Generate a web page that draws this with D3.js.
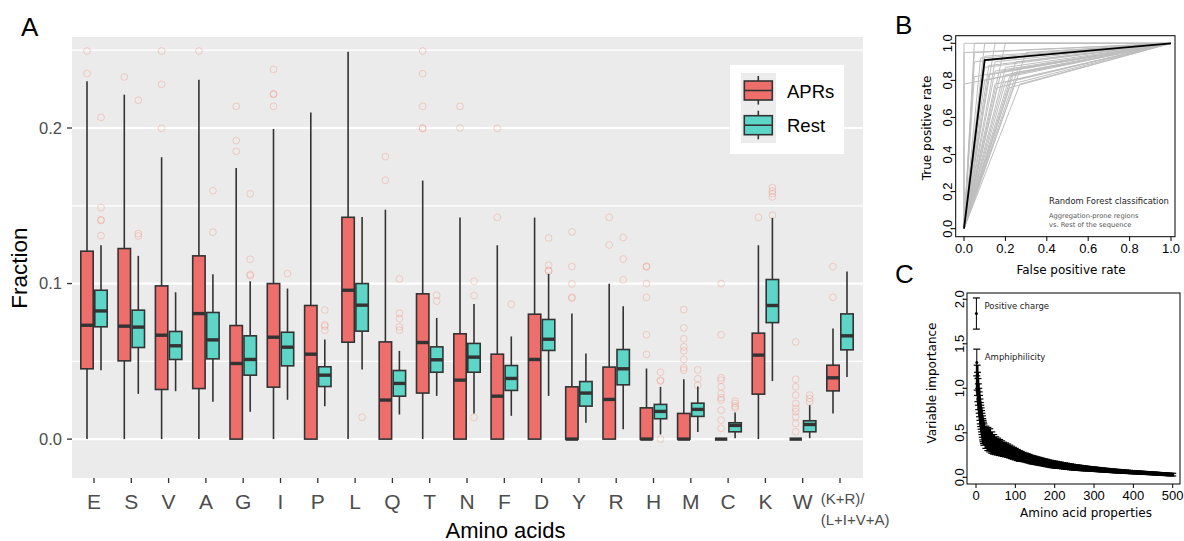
<!DOCTYPE html>
<html><head><meta charset="utf-8">
<script src="https://cdn.jsdelivr.net/npm/d3@7"></script>
<style>
body{margin:0;background:#fff;}
svg{display:block;}
</style></head><body>
<svg id="chart" width="1184" height="541"></svg>
<script>
// ---------------- Panel A data ----------------
const categories = ["E","S","V","A","G","I","P","L","Q","T","N","F","D","Y","R","H","M","C","K","W","(K+R)/(L+I+V+A)"];
const categoryLabelLines = [["E"],["S"],["V"],["A"],["G"],["I"],["P"],["L"],["Q"],["T"],["N"],["F"],["D"],["Y"],["R"],["H"],["M"],["C"],["K"],["W"],["(K+R)/","(L+I+V+A)"]];
const seriesNames = ["APRs","Rest"];
const yTicks = [0.0, 0.1, 0.2];
const yTickLabels = ["0.0","0.1","0.2"];

const aprLow    = [0,0,0,0,0,0,0,0,0,0,0,0,0,0,0,0,0,0,0,0,0.0165];
const aprQ1     = [0.0452,0.0503,0.0319,0.0325,0,0.0334,0,0.0623,0,0.0296,0,0,0,0,0,0,0,0,0.0289,0,0.031];
const aprMedian = [0.0732,0.0726,0.0668,0.0807,0.0486,0.0655,0.0546,0.0957,0.0251,0.0621,0.0379,0.0276,0.0512,0,0.0255,0,0,0,0.054,0,0.0394];
const aprQ3     = [0.1208,0.1225,0.0985,0.1178,0.073,0.1,0.0859,0.1426,0.0625,0.0934,0.0677,0.0546,0.0803,0.0336,0.0463,0.0201,0.0165,0,0.0681,0,0.0475];
const aprHigh   = [0.230,0.2214,0.1812,0.231,0.1743,0.1994,0.2099,0.249,0.1475,0.1662,0.1424,0.1246,0.1424,0.0807,0.0998,0.0454,0.0385,0,0.1246,0,0.0711];
const aprOutliers = [
  [0.2495,0.235],[0.2328],[0.2495,0.228,0.1998],[0.2495],[0.2139,0.1919,0.185],
  [0.2377,0.222,0.2216,0.2139],[],[],[0.1816,0.1664],[0.2495,0.2349,0.2139,0.2,0.1996],
  [0.2139,0.2],[0.1998,0.1426],[],[0.1332,0.1109,0.0998,0.0912,0.0906],[0.1426,0.1248],
  [0.1111,0.1107,0.1,0.0912,0.067,0.0544],[0.0833,0.0715,0.0645,0.0593,0.0567,0.0512,0.0458,0.0443],
  [0.1,0.067,0.0394,0.0379,0.0336,0.0293,0.0266,0.0251,0.0186,0.0122,0.0069],[0.1426],
  [0.0625,0.0385,0.0336,0.0283,0.0229,0.0197,0.0176,0.0143,0.0101,0.0047],[0.1109,0.0912]
];

const restLow    = [0.0443,0.0291,0.0308,0.024,0.0176,0.0253,0.0212,0.0448,0.0158,0.0278,0.0165,0.015,0.0278,0.0105,0.0064,0.003,0.0045,0.0006,0.0373,0.0006,0.04];
const restQ1     = [0.0722,0.0589,0.0512,0.0516,0.0411,0.0471,0.0338,0.0694,0.0276,0.043,0.043,0.0313,0.057,0.0212,0.0349,0.0131,0.0146,0.0047,0.0749,0.0047,0.0574];
const restMedian = [0.0824,0.072,0.06,0.0638,0.0512,0.0591,0.0411,0.0861,0.0358,0.051,0.0527,0.039,0.0642,0.0296,0.0452,0.0178,0.0191,0.0088,0.0859,0.0094,0.0664];
const restQ3     = [0.0957,0.0829,0.0692,0.0814,0.0664,0.0687,0.0465,0.1,0.0441,0.0593,0.0615,0.0473,0.0769,0.037,0.0576,0.0223,0.0231,0.0105,0.1026,0.0118,0.0805];
const restHigh   = [0.1246,0.1178,0.0944,0.106,0.1015,0.0968,0.064,0.1428,0.0567,0.0779,0.0869,0.066,0.1062,0.055,0.0854,0.0336,0.0338,0.0171,0.1422,0.0218,0.1077];
const restOutliers = [
  [0.2068,0.1488,0.141,0.1405,0.1308],[0.2178,0.1321,0.1306],[],[0.1597,0.133],[0.1576,0.1156,0.1058,0.1051],
  [0.1064],[0.083,0.0735,0.0725,0.07],[0.0141],[0.103,0.0809,0.0775,0.0722,0.07],[0.0925,0.0887],
  [0.1015,0.0923,0.0139],[0.0867],[0.1293,0.1118,0.1086,0.1079],[],[0.1296,0.1158,0.1024],
  [0.043,0.0379,0.0373,0.0],[0.0445,0.0388,0.0345],[0.0244,0.0229,0.0212,0.0201],
  [0.1617,0.1595,0.1578,0.1557,0.1439],[0.0283,0.0261,0.024],[]
];

// ---------------- Panel B data ----------------
const rocTicks = [0,0.2,0.4,0.6,0.8,1.0];
const rocTickLabels = ["0.0","0.2","0.4","0.6","0.8","1.0"];
// operating point of each cross-validation model (gray), curve = (0,0) -> point -> (1,1)
const foldFpr = [0,0.05,0.05,0.1,0.15,0.2,0,0.05,0.1,0.1,0.15,0.15,0.2,0.2,0.2,0.05,0,0.1,0.15,0.25,0.27,0.22,0.18,0.12,0.3,0.25,0.22,0.16,0.12,0.08,0.24,0.26];
const foldTpr = [1.0,0.95,1.0,1.0,1.0,1.0,0.95,0.9,0.87,0.93,0.9,0.85,0.87,0.83,0.79,0.82,0.78,0.8,0.78,0.8,0.78,0.82,0.85,0.83,0.95,0.9,0.76,0.76,0.88,0.92,0.84,0.86];
const meanFpr = [0,0.1,1];
const meanTpr = [0,0.91,1];

// ---------------- Panel C data ----------------
const impRank = [1,2,3,4,5,6,7,8,9,10,11,12,13,14,15,16,17,18,19,20,
 25,30,35,40,45,50,55,60,65,70,75,80,85,90,95,100,105,110,115,120,125,130,135,140,145,150,155,160,165,170,175,180,185,190,195,200,
 205,210,215,220,225,230,235,240,245,250,255,260,265,270,275,280,285,290,295,300,305,310,315,320,325,330,335,340,345,350,
 355,360,365,370,375,380,385,390,395,400,405,410,415,420,425,430,435,440,445,450,455,460,465,470,475,480,485,490,495,500];
const impMean = [1.84,1.29,1.12,1.05,0.98,0.93,0.88,0.84,0.80,0.76,0.72,0.69,0.66,0.63,0.60,0.57,0.54,0.52,0.50,0.48,
 0.45,0.43,0.415,0.39,0.37,0.355,0.345,0.335,0.325,0.315,0.308,0.30,0.29,0.28,0.27,0.26,0.25,0.24,0.235,0.228,0.222,0.215,0.208,0.20,0.195,0.19,0.185,0.18,0.175,0.17,0.165,0.16,0.155,0.15,0.146,0.143,
 0.14,0.137,0.134,0.13,0.127,0.124,0.121,0.118,0.115,0.112,0.11,0.108,0.105,0.103,0.101,0.099,0.097,0.095,0.093,0.091,0.089,0.087,0.085,0.083,0.081,0.079,0.077,0.076,0.074,0.072,
 0.07,0.069,0.067,0.066,0.064,0.063,0.061,0.06,0.058,0.057,0.056,0.054,0.053,0.052,0.05,0.049,0.048,0.046,0.045,0.044,0.042,0.041,0.04,0.038,0.037,0.035,0.034,0.032,0.031,0.03];
const impErr = [0.175,0.15,0.14,0.13,0.13,0.12,0.12,0.12,0.12,0.12,0.12,0.12,0.12,0.12,0.12,0.12,0.12,0.12,0.12,0.12,
 0.125,0.13,0.13,0.12,0.11,0.1,0.095,0.09,0.085,0.08,0.078,0.075,0.072,0.07,0.067,0.065,0.062,0.06,0.056,0.052,0.051,0.05,0.049,0.048,0.047,0.046,0.045,0.044,0.043,0.042,0.041,0.041,0.04,0.04,0.039,0.039,
 0.038,0.037,0.036,0.035,0.035,0.034,0.033,0.033,0.032,0.031,0.031,0.03,0.029,0.029,0.028,0.027,0.026,0.025,0.025,0.025,0.024,0.024,0.023,0.023,0.022,0.022,0.022,0.021,0.021,0.021,
 0.02,0.02,0.02,0.019,0.019,0.019,0.018,0.018,0.018,0.018,0.018,0.017,0.017,0.017,0.017,0.017,0.016,0.016,0.016,0.016,0.016,0.016,0.015,0.015,0.015,0.015,0.015,0.015,0.015,0.015];
const impXTicks = [0,100,200,300,400,500];
const impYTicks = [0,0.5,1.0,1.5,2.0];
const impYTickLabels = ["0.0","0.5","1.0","1.5","2.0"];
const impLabels = [{rank:1, text:"Positive charge"},{rank:2, text:"Amphiphilicity"}];

// ================= Drawing =================
const svg = d3.select("#chart");
const fontA = "'Liberation Sans', Arial, sans-serif";
const fontB = "'DejaVu Sans', sans-serif";

// ---------- Panel A ----------
const gA = svg.append("g");
const x = d3.scalePoint().domain(categories).range([94, 840]);
const y = d3.scaleLinear().domain([-0.025, 0.2585]).range([478, 37]);
const panelL = 72, panelR = 863;
gA.append("rect").attr("x", panelL).attr("y", y(0.2585)).attr("width", panelR - panelL)
  .attr("height", y(-0.025) - y(0.2585)).attr("fill", "#ebebeb");
[0.05, 0.15, 0.25].forEach(v => gA.append("line").attr("x1", panelL).attr("x2", panelR)
  .attr("y1", y(v)).attr("y2", y(v)).attr("stroke", "#fff").attr("stroke-width", 1.3));
yTicks.forEach(v => gA.append("line").attr("x1", panelL).attr("x2", panelR)
  .attr("y1", y(v)).attr("y2", y(v)).attr("stroke", "#fff").attr("stroke-width", 2.2));

const colors = {APRs: "#ee6e6b", Rest: "#5dd6c8"};
const series = [
  {name:"APRs", off:-7, low:aprLow, q1:aprQ1, med:aprMedian, q3:aprQ3, high:aprHigh, out:aprOutliers},
  {name:"Rest", off:7, low:restLow, q1:restQ1, med:restMedian, q3:restQ3, high:restHigh, out:restOutliers}
];
const bw = 12.4;
categories.forEach((c, i) => {
  series.forEach(s => {
    const cx = x(c) + s.off;
    const g = gA.append("g");
    g.selectAll("circle").data(s.out[i]).join("circle")
      .attr("cx", cx).attr("cy", d => y(d)).attr("r", 3.4)
      .attr("fill", "none").attr("stroke", "#f08a70").attr("stroke-opacity", 0.35).attr("stroke-width", 1);
    g.append("line").attr("x1", cx).attr("x2", cx).attr("y1", y(s.high[i])).attr("y2", y(s.q3[i]))
      .attr("stroke", "#333").attr("stroke-width", 1.6);
    g.append("line").attr("x1", cx).attr("x2", cx).attr("y1", y(s.q1[i])).attr("y2", y(s.low[i]))
      .attr("stroke", "#333").attr("stroke-width", 1.6);
    g.append("rect").attr("x", cx - bw/2).attr("width", bw)
      .attr("y", y(s.q3[i])).attr("height", Math.max(0, y(s.q1[i]) - y(s.q3[i])))
      .attr("fill", colors[s.name]).attr("stroke", "#333").attr("stroke-width", 1.6);
    g.append("line").attr("x1", cx - bw/2).attr("x2", cx + bw/2).attr("y1", y(s.med[i])).attr("y2", y(s.med[i]))
      .attr("stroke", "#333").attr("stroke-width", 3.4);
  });
});
// y axis
yTicks.forEach((v, k) => {
  gA.append("line").attr("x1", 67).attr("x2", panelL).attr("y1", y(v)).attr("y2", y(v))
    .attr("stroke", "#333").attr("stroke-width", 1.3);
  gA.append("text").attr("x", 62).attr("y", y(v) + 5.8).attr("text-anchor", "end")
    .attr("font-family", fontA).attr("font-size", 16.5).attr("fill", "#4d4d4d").text(yTickLabels[k]);
});
// x axis
categories.forEach((c, i) => {
  gA.append("line").attr("x1", x(c)).attr("x2", x(c)).attr("y1", 478).attr("y2", 483)
    .attr("stroke", "#333").attr("stroke-width", 1.3);
  const lines = categoryLabelLines[i];
  if (lines.length === 1) {
    gA.append("text").attr("x", x(c)).attr("y", 508.5).attr("text-anchor", "middle")
      .attr("font-family", fontA).attr("font-size", 21).attr("fill", "#4d4d4d").text(lines[0]);
  } else {
    lines.forEach((l, k) => gA.append("text").attr("x", x(c) - 19.3).attr("y", 504 + k * 20.5).attr("text-anchor", "start")
      .attr("font-family", fontA).attr("font-size", 15).attr("fill", "#4d4d4d").text(l));
  }
});
gA.append("text").attr("x", 505.5).attr("y", 537.5).attr("text-anchor", "middle")
  .attr("font-family", fontA).attr("font-size", 22).attr("fill", "#000").text("Amino acids");
gA.append("text").attr("transform", "translate(27,268) rotate(-90)").attr("text-anchor", "middle")
  .attr("font-family", fontA).attr("font-size", 22.5).attr("fill", "#000").text("Fraction");
// legend
gA.append("rect").attr("x", 730).attr("y", 65).attr("width", 114).attr("height", 89).attr("fill", "#fff");
gA.append("rect").attr("x", 741).attr("y", 73).attr("width", 35).attr("height", 70).attr("fill", "#ececec");
seriesNames.forEach((n, k) => {
  const top = 81 + k * 34.7, bot = top + 19, kx = 758.3;
  gA.append("line").attr("x1", kx).attr("x2", kx).attr("y1", top - 5).attr("y2", bot + 4.6).attr("stroke", "#333").attr("stroke-width", 1.6);
  gA.append("rect").attr("x", 744.3).attr("y", top).attr("width", 28).attr("height", 19)
    .attr("fill", colors[n]).attr("stroke", "#333").attr("stroke-width", 1.6);
  gA.append("line").attr("x1", 744.3).attr("x2", 772.3).attr("y1", top + 9.5).attr("y2", top + 9.5).attr("stroke", "#333").attr("stroke-width", 1.6);
  gA.append("text").attr("x", 787).attr("y", top + 16.5).attr("font-family", fontA).attr("font-size", 18.5).attr("fill", "#000").text(n);
});
svg.append("text").attr("x", 21).attr("y", 36).attr("font-family", fontA).attr("font-size", 26).text("A");

// ---------- Panel B ----------
const gB = svg.append("g");
const bx = d3.scaleLinear().domain([0, 1]).range([964, 1171]);
const by = d3.scaleLinear().domain([0, 1]).range([228.7, 43.3]);
const line = d3.line().x(d => bx(d[0])).y(d => by(d[1]));
foldFpr.forEach((f, k) => {
  gB.append("path").attr("d", line([[0,0],[f, foldTpr[k]],[1,1]])).attr("fill", "none")
    .attr("stroke", "#bebebe").attr("stroke-width", 1);
});
gB.append("path").attr("d", line(meanFpr.map((f, k) => [f, meanTpr[k]]))).attr("fill", "none")
  .attr("stroke", "#000").attr("stroke-width", 1.8);
gB.append("rect").attr("x", 955.7).attr("y", 35.7).attr("width", 219.3).attr("height", 201)
  .attr("fill", "none").attr("stroke", "#000").attr("stroke-width", 1);
rocTicks.forEach((v, k) => {
  gB.append("line").attr("x1", bx(v)).attr("x2", bx(v)).attr("y1", 236.7).attr("y2", 241).attr("stroke", "#000");
  gB.append("text").attr("x", bx(v)).attr("y", 253).attr("text-anchor", "middle")
    .attr("font-family", fontA).attr("font-size", 13).text(rocTickLabels[k]);
  gB.append("line").attr("x1", 955.7).attr("x2", 951.5).attr("y1", by(v)).attr("y2", by(v)).attr("stroke", "#000");
  gB.append("text").attr("transform", `translate(952,${by(v)}) rotate(-90)`).attr("text-anchor", "middle")
    .attr("font-family", fontA).attr("font-size", 13).text(rocTickLabels[k]);
});
gB.append("text").attr("x", 1071).attr("y", 274).attr("text-anchor", "middle")
  .attr("font-family", fontB).attr("font-size", 12).text("False positive rate");
gB.append("text").attr("transform", "translate(931,128) rotate(-90)").attr("text-anchor", "middle")
  .attr("font-family", fontB).attr("font-size", 12).text("True positive rate");
gB.append("text").attr("x", 1049).attr("y", 204).attr("font-family", fontB).attr("font-size", 8.4).attr("fill", "#222").text("Random Forest classification");
gB.append("text").attr("x", 1049).attr("y", 217.5).attr("font-family", fontB).attr("font-size", 6.7).attr("fill", "#555").text("Aggregation-prone regions");
gB.append("text").attr("x", 1049).attr("y", 226.5).attr("font-family", fontB).attr("font-size", 6.7).attr("fill", "#555").text("vs. Rest of the sequence");
svg.append("text").attr("x", 895).attr("y", 34).attr("font-family", fontA).attr("font-size", 26).text("B");

// ---------- Panel C ----------
const gC = svg.append("g");
const cxs = d3.scaleLinear().domain([0, 500]).range([976, 1172.7]);
const cys = d3.scaleLinear().domain([0, 2]).range([477.3, 299.3]);
impRank.forEach((r, k) => {
  const px = cxs(r), lo = cys(impMean[k] - impErr[k]), hi = cys(impMean[k] + impErr[k]);
  const sw = r <= 2 ? 1 : 2.7;
  gC.append("line").attr("x1", px).attr("x2", px).attr("y1", lo).attr("y2", hi).attr("stroke", "#000").attr("stroke-width", sw);
  gC.append("line").attr("x1", px - 3.5).attr("x2", px + 3.5).attr("y1", lo).attr("y2", lo).attr("stroke", "#000").attr("stroke-width", 1.2);
  gC.append("line").attr("x1", px - 3.5).attr("x2", px + 3.5).attr("y1", hi).attr("y2", hi).attr("stroke", "#000").attr("stroke-width", 1.2);
  gC.append("circle").attr("cx", px).attr("cy", cys(impMean[k])).attr("r", 1.5).attr("fill", "#000");
});
gC.append("rect").attr("x", 967).attr("y", 293).attr("width", 213).attr("height", 191)
  .attr("fill", "none").attr("stroke", "#000").attr("stroke-width", 1);
impXTicks.forEach(v => {
  gC.append("line").attr("x1", cxs(v)).attr("x2", cxs(v)).attr("y1", 484).attr("y2", 488).attr("stroke", "#000");
  gC.append("text").attr("x", cxs(v)).attr("y", 500).attr("text-anchor", "middle")
    .attr("font-family", fontA).attr("font-size", 13).text(v);
});
impYTicks.forEach((v, k) => {
  gC.append("line").attr("x1", 967).attr("x2", 963).attr("y1", cys(v)).attr("y2", cys(v)).attr("stroke", "#000");
  gC.append("text").attr("transform", `translate(963.5,${cys(v)}) rotate(-90)`).attr("text-anchor", "middle")
    .attr("font-family", fontA).attr("font-size", 13).text(impYTickLabels[k]);
});
impLabels.forEach(l => {
  const k = impRank.indexOf(l.rank);
  gC.append("text").attr("x", cxs(l.rank) + 8).attr("y", cys(impMean[k]) + (l.rank === 1 ? -5 : -2))
    .attr("font-family", fontB).attr("font-size", 8.5).attr("fill", "#222").text(l.text);
});
gC.append("text").attr("x", 1086).attr("y", 517).attr("text-anchor", "middle")
  .attr("font-family", fontB).attr("font-size", 12).text("Amino acid properties");
gC.append("text").attr("transform", "translate(935.5,383) rotate(-90)").attr("text-anchor", "middle")
  .attr("font-family", fontB).attr("font-size", 12).text("Variable importance");
svg.append("text").attr("x", 895).attr("y", 283).attr("font-family", fontA).attr("font-size", 26).text("C");
</script>
</body></html>
